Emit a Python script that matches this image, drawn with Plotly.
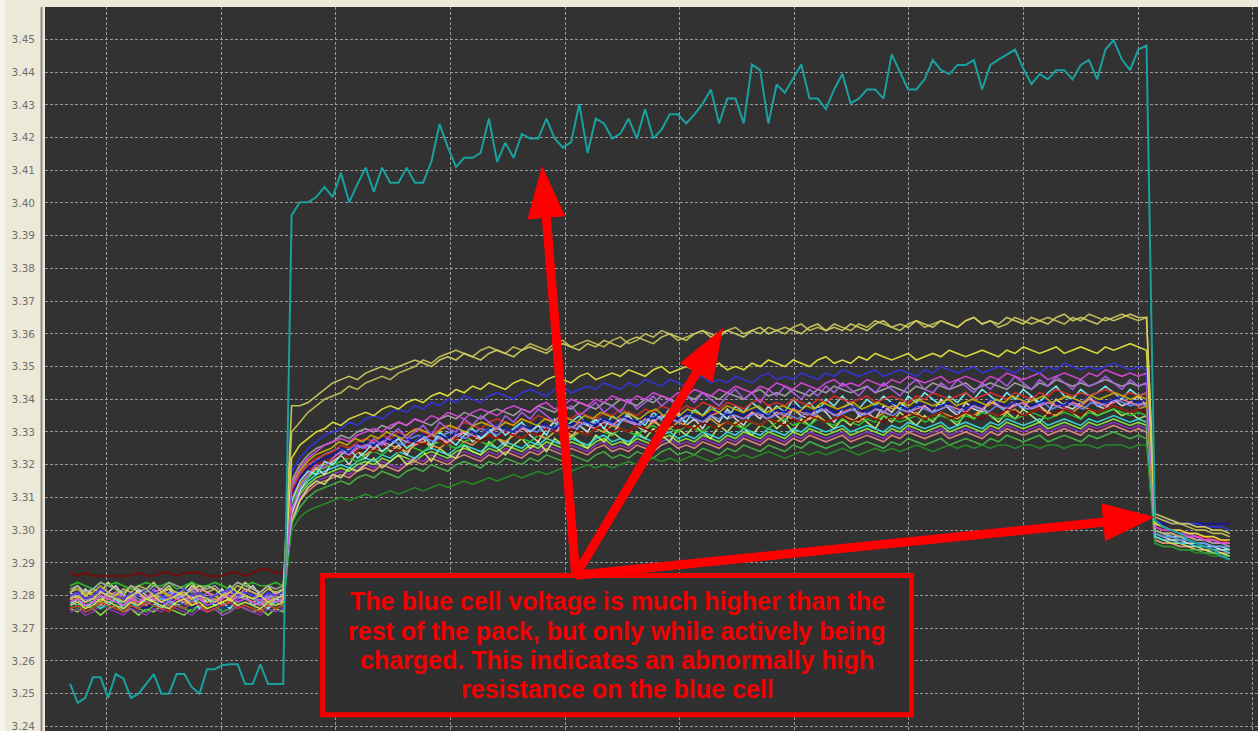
import numpy as np
import plotly.graph_objects as go

# Cell voltages in millivolts above 3.000 V.
# Each cell has three logged phases: resting, charging, and just after charge stops.

# The high-resistance ("blue") cell
blue_rest = [253.0, 247.2, 248.7, 255.0, 255.0, 248.7, 256.0, 254.7, 248.7, 250.0, 253.0, 256.0, 250.0, 250.0,
             256.0, 256.0, 252.0, 250.0, 257.5, 257.5, 258.7, 259.0, 259.0, 253.0, 253.0, 259.0, 253.0, 253.0, 253.0]
blue_chg = [396.2, 400.2, 400.2, 401.8, 404.9, 401.8, 409.2, 400.2, 405.7, 410.8, 403.4, 410.8, 406.2, 406.2,
            410.8, 406.2, 406.2, 412.6, 424.1, 417.1, 411.0, 413.8, 413.8, 415.3, 425.8, 412.6,
            418.4, 413.8, 421.1, 419.7, 419.7, 425.8, 419.7, 416.9, 418.6, 430.3, 415.3, 425.8, 424.3,
            419.7, 421.2, 425.8, 419.7, 428.7, 419.7, 422.4, 427.1, 427.1, 424.3, 427.1, 430.3, 434.7,
            424.3, 431.9, 431.9, 424.3, 442.3, 440.6, 424.3, 436.2, 433.7, 437.8, 442.3, 431.9, 431.9,
            428.7, 434.7, 439.4, 430.5, 431.9, 434.7, 434.7, 431.9, 445.4, 440.1, 434.7, 434.7, 437.8,
            443.7, 440.6, 439.4, 442.2, 442.2, 443.7, 434.7, 442.2, 443.8, 445.4, 446.9, 441.1, 436.3,
            439.4, 437.8, 440.6, 440.6, 437.8, 442.2, 443.7, 437.8, 446.9, 449.8, 443.9, 440.6, 446.9, 448.1]
blue_post = [303, 301, 300, 299, 297, 296, 295, 294, 292, 291]

c01_rest = [279,280,278,279,281,280,279,278,280,281,279,280,278,279,280,281,279,280,279,278,280,279,281,280,279,280,278,279,280]
c01_chg = [338,338,339,341,343,345,346,347,346,348,349,350,349,350,351,352,351,350,352,353,352,354,353,352,354,355,354,353,355,356,355,354,356,357,356,355,357,356,358,357,356,358,359,358,357,359,360,359,358,360,361,359,360,361,360,359,361,362,360,361,362,361,360,362,363,361,362,361,363,362,361,363,364,362,363,362,364,363,362,364,363,362,364,365,363,364,363,365,364,363,365,364,363,365,366,364,365,364,363,365,364,365,366,365,365]
c01_post = [305,304,303,302,302,301,301,300,300,299]

c02_rest = [281,282,280,281,283,281,280,282,281,283,282,280,281,282,281,280,282,283,281,282,280,281,283,282,281,280,282,281,282]
c02_chg = [330,333,336,338,340,341,342,344,343,345,346,347,346,348,349,350,352,351,353,354,355,354,353,355,356,355,354,356,355,357,356,355,357,358,356,357,358,357,356,358,359,357,358,360,359,361,360,358,359,360,361,360,359,361,362,360,361,360,362,361,360,362,363,361,362,361,363,362,361,363,362,364,363,362,361,363,364,362,363,364,363,362,364,365,363,364,362,363,365,364,363,364,365,364,363,365,364,366,365,364,365,366,365,364,365]
c02_post = [304,303,302,302,301,300,300,299,299,298]

c03_rest = [277,278,276,277,279,278,277,276,278,277,279,278,277,276,278,279,277,278,276,277,278,279,277,278,277,276,278,277,278]
c03_chg = [322,326,328,330,331,333,332,334,335,336,335,337,338,337,339,340,339,341,342,341,343,342,344,343,345,344,343,345,346,345,344,346,347,346,345,347,348,346,347,348,347,349,348,347,349,350,348,349,350,349,348,350,351,349,350,349,351,350,352,351,350,352,351,350,352,353,351,352,351,353,352,354,353,352,353,354,352,353,354,353,355,354,353,354,355,354,353,355,354,356,355,354,355,356,354,355,356,355,354,356,355,356,357,356,355]
c03_post = [302,301,300,300,299,299,298,298,297,297]

c04_rest = [280,281,279,280,282,281,280,279,281,280,282,281,280,279,281,282,280,281,279,280,281,282,280,281,280,279,281,280,281]
c04_chg = [318,322,325,327,329,330,331,333,332,334,335,334,336,337,336,338,337,339,338,340,339,341,340,339,341,342,341,340,342,343,342,341,343,344,342,343,344,343,345,344,343,345,344,346,345,344,346,345,344,346,347,345,346,345,347,346,345,347,348,346,347,346,348,347,346,348,347,349,348,347,348,349,347,348,349,348,347,349,348,350,349,348,349,350,348,349,350,349,348,350,349,348,350,349,351,350,349,350,349,350,351,350,349,350,349]
c04_post = [304,303,303,302,302,302,301,301,301,300]

c05_rest = [278,279,277,278,280,279,278,277,279,278,280,279,278,277,279,278,280,279,277,278,279,280,278,279,278,277,279,278,279]
c05_chg = [314,319,322,324,326,327,328,327,329,330,331,330,332,333,332,334,333,335,334,336,335,334,336,337,336,335,337,338,337,336,338,339,337,338,340,339,338,340,339,341,340,339,341,340,342,341,340,342,341,343,342,341,343,342,344,343,342,344,343,345,344,343,345,344,343,345,346,344,345,344,346,345,344,346,345,347,346,345,346,347,345,346,347,346,345,347,346,348,347,346,347,348,346,347,348,347,346,348,347,349,348,347,348,347,348]
c05_post = [301,300,300,299,298,298,297,297,296,296]

c06_rest = [282,283,281,282,284,283,282,281,283,282,281,283,282,284,283,282,281,283,282,283,281,282,284,283,282,281,283,282,283]
c06_chg = [315,320,323,325,326,327,329,328,330,331,330,332,331,333,332,334,333,332,334,335,334,336,335,334,336,337,336,335,337,336,338,337,336,338,337,339,338,337,339,338,340,339,338,340,339,341,340,339,341,340,342,341,340,342,341,340,342,343,341,342,341,343,342,341,343,342,344,343,342,343,344,342,343,344,343,342,344,343,345,344,343,344,345,343,344,345,344,343,345,344,343,345,344,346,345,344,345,344,345,346,345,344,345,344,345]
c06_post = [300,299,299,298,298,297,297,296,296,295]

c07_rest = [276,277,275,276,278,277,276,275,277,276,278,277,276,275,277,276,278,277,275,276,277,278,276,277,276,275,277,276,277]
c07_chg = [312,317,320,322,323,324,326,325,327,328,327,329,328,330,329,331,330,329,331,332,331,333,332,331,333,334,333,332,334,333,335,334,333,335,334,336,335,334,336,335,337,336,335,337,336,338,337,336,338,337,339,338,337,339,338,337,339,340,338,339,338,340,339,338,340,339,341,340,339,340,341,339,340,341,340,339,341,340,342,341,340,341,342,340,341,342,341,340,342,341,340,342,341,343,342,341,342,341,342,343,342,341,342,341,342]
c07_post = [302,301,300,300,299,298,298,297,297,296]

c08_rest = [283,284,283,282,284,283,284,283,282,283,284,283,283,284,282,283,284,283,283,284,283,282,284,283,284,283,283,284,283]
c08_chg = [308,313,316,318,319,320,321,322,321,323,324,323,325,324,326,325,324,326,327,326,325,327,328,327,326,328,327,329,328,327,329,328,330,329,328,330,329,331,330,329,331,330,329,331,332,330,331,330,332,331,330,332,331,333,332,331,333,332,331,333,334,332,333,332,334,333,332,334,333,332,334,333,335,334,333,334,335,333,334,335,334,333,335,334,336,335,334,335,334,335,336,335,334,335,336,335,334,336,335,336,337,336,335,336,335]
c08_post = [299,298,298,297,297,296,296,295,295,294]

c09_rest = [278,277,279,278,276,278,279,277,278,276,278,277,279,278,277,276,278,279,277,278,276,277,279,278,277,278,276,278,277]
c09_chg = [306,312,315,317,318,319,320,319,321,322,321,323,322,324,323,322,324,325,324,323,325,326,325,324,326,325,327,326,325,327,326,328,327,326,328,327,326,328,329,327,328,327,329,328,327,329,330,328,329,328,330,329,328,330,329,331,330,329,331,330,329,331,330,332,331,330,331,332,330,331,332,331,330,332,331,333,332,331,332,333,331,332,333,332,331,333,332,334,333,332,333,334,332,333,334,333,332,334,333,334,335,334,333,334,333]
c09_post = [298,297,297,296,296,295,295,294,294,293]

c10_rest = [280,281,279,280,282,281,280,279,281,280,279,281,282,280,281,279,280,282,281,280,279,281,280,282,281,280,279,281,280]
c10_chg = [310,315,318,320,321,322,324,323,325,326,325,327,326,328,327,326,328,329,328,327,329,330,329,328,330,331,330,329,331,330,332,331,330,332,331,333,332,331,333,332,334,333,332,334,333,335,334,333,335,334,333,335,336,334,335,334,336,335,334,336,335,337,336,335,336,337,335,336,337,336,335,337,336,338,337,336,337,338,336,337,338,337,336,338,337,339,338,337,338,339,337,338,339,338,337,339,338,340,339,338,339,340,339,338,339]
c10_post = [300,299,299,298,298,297,297,296,296,296]

c11_rest = [279,278,280,279,277,279,280,278,279,277,279,278,280,279,278,277,279,280,278,279,277,278,280,279,278,279,277,279,278]
c11_chg = [309,314,317,319,320,321,323,322,324,323,325,324,326,325,324,326,327,326,325,327,328,327,326,328,329,328,327,329,328,330,329,328,330,331,329,330,329,331,330,332,331,330,332,331,333,332,331,333,332,331,333,334,332,333,332,334,333,332,334,333,335,334,333,334,335,333,334,335,334,333,335,334,336,335,334,335,336,334,335,336,335,334,336,335,337,336,335,336,337,335,336,337,336,335,337,336,338,337,336,337,338,337,336,337,338]
c11_post = [301,300,300,299,299,298,298,297,297,297]

c12_rest = [276,275,277,276,274,276,277,275,276,274,276,275,277,276,275,274,276,277,275,276,274,275,277,276,275,276,274,276,275]
c12_chg = [305,311,314,316,317,318,319,318,320,321,320,322,321,323,322,321,323,324,323,322,324,325,324,323,325,324,326,325,324,326,325,327,326,325,327,326,325,327,328,326,327,326,328,327,326,328,329,327,328,327,329,328,327,329,328,330,329,328,330,329,328,330,329,331,330,329,330,331,329,330,331,330,329,331,330,332,331,330,331,332,330,331,332,331,330,332,331,333,332,331,332,333,331,332,333,332,331,333,332,333,334,333,332,333,332]
c12_post = [297,296,296,295,295,294,294,293,293,292]

c13_rest = [275,276,274,275,277,276,275,274,276,275,274,276,275,277,276,275,274,276,275,276,274,275,277,276,275,274,276,275,276]
c13_chg = [304,310,313,315,316,317,318,317,319,320,319,321,320,319,321,322,321,323,322,321,323,324,323,322,324,323,325,324,323,325,324,326,325,324,326,325,324,326,327,325,326,325,327,326,325,327,328,326,327,326,328,327,326,328,327,329,328,327,329,328,327,329,328,330,329,328,329,330,328,329,330,329,328,330,329,331,330,329,330,331,329,330,331,330,329,331,330,332,331,330,331,332,330,331,332,331,330,332,331,332,333,332,331,332,331]
c13_post = [298,297,297,296,296,295,295,295,294,294]

c14_rest = [277,278,276,277,279,278,277,276,278,277,276,278,277,279,278,277,276,278,277,278,276,277,279,278,277,276,278,277,278]
c14_chg = [311,316,319,321,322,323,325,324,326,327,326,328,327,329,328,327,329,330,329,328,330,331,330,329,331,332,331,330,332,331,333,332,331,333,332,334,333,332,334,333,335,334,333,335,334,336,335,334,336,335,334,336,337,335,336,335,337,336,335,337,336,338,337,336,337,338,336,337,338,337,336,338,337,339,338,337,338,339,337,338,339,338,337,339,338,340,339,338,339,340,338,339,340,339,338,340,339,341,340,339,340,341,340,339,340]
c14_post = [303,302,302,302,302,302,302,302,302,302]

c15_rest = [278,279,277,278,280,279,278,277,279,278,277,279,278,280,279,278,277,279,278,279,277,278,280,279,278,277,279,278,279]
c15_chg = [303,309,312,314,315,316,317,316,318,319,318,320,319,318,320,321,320,322,321,320,322,323,322,321,323,322,324,323,322,324,323,325,324,323,325,324,323,325,326,324,325,324,326,325,324,326,327,325,326,325,327,326,325,327,326,328,327,326,328,327,326,328,327,329,328,327,328,329,327,328,329,328,327,329,328,330,329,328,329,330,328,329,330,329,328,330,329,331,330,329,330,331,329,330,331,330,329,331,330,331,332,331,330,331,330]
c15_post = [297,296,296,295,295,294,294,294,293,293]

c16_rest = [277,276,278,277,276,277,278,276,277,276,278,277,276,277,278,276,277,278,276,277,276,277,278,277,276,277,278,276,277]
c16_chg = [300,304,306,307,308,309,310,309,310,311,310,311,312,311,312,313,312,313,314,313,314,315,314,315,316,315,316,317,316,317,318,317,318,319,318,319,320,319,320,319,320,321,320,321,322,321,322,321,322,323,322,321,322,323,322,323,322,323,324,323,322,323,324,323,324,323,324,325,324,323,324,325,324,325,324,325,326,325,324,325,326,325,326,325,326,325,326,326,325,326,326,325,326,326,325,326,326,326,325,326,326,326,325,326,326]
c16_post = [296,295,295,294,294,293,293,292,292,291]

c17_rest = [276,277,275,276,278,277,276,275,277,276,275,277,276,278,277,276,275,277,276,277,275,276,278,277,276,275,277,276,277]
c17_chg = [302,307,310,312,313,314,315,314,316,317,316,318,317,316,318,319,318,320,319,318,320,321,320,319,321,320,322,321,320,322,321,323,322,321,323,322,321,323,324,322,323,322,324,323,322,324,325,323,324,323,325,324,323,325,324,326,325,324,326,325,324,326,325,327,326,325,326,327,325,326,327,326,325,327,326,328,327,326,327,328,326,327,328,327,326,328,327,329,328,327,328,329,327,328,329,328,327,329,328,329,330,329,328,329,328]
c17_post = [296,295,295,294,294,294,293,293,292,292]

c18_rest = [287,286,287,286,286,286,286,286,286,287,286,286,287,287,286,287,287,287,286,286,286,287,287,286,287,288,288,287,287]
c18_chg = [310,315,318,320,321,322,323,322,324,325,324,326,325,324,326,327,326,328,327,326,328,329,328,327,329,328,330,329,328,330,329,331,330,329,331,330,329,331,332,330,331,330,332,331,330,332,333,331,332,331,333,332,331,333,332,334,333,332,334,333,332,334,333,335,334,333,334,335,333,334,335,334,333,335,334,336,335,334,335,336,334,335,336,335,334,336,335,337,336,335,336,337,335,336,337,336,335,337,336,337,338,337,336,337,336]
c18_post = [301,300,300,299,299,298,298,297,297,297]

c19_rest = [279,280,278,279,281,280,279,278,280,279,278,280,279,281,280,279,278,280,279,280,278,279,281,280,279,278,280,279,280]
c19_chg = [313,317,320,321,323,324,325,324,326,325,327,326,328,327,326,328,329,328,327,329,330,329,328,330,331,330,329,331,330,332,331,330,332,331,333,332,331,333,332,334,333,332,334,333,332,334,335,333,334,333,335,334,333,335,334,336,335,334,335,336,334,335,336,335,334,336,335,337,336,335,336,337,335,336,337,336,335,337,336,338,337,336,337,338,336,337,338,337,336,338,337,339,338,337,338,339,337,338,339,338,337,339,338,339,340,339,338,339,338]
c19_post = [299,298,298,297,297,296,296,295,295,295]

c20_rest = [280,279,281,280,278,280,281,279,280,278,280,279,281,280,279,278,280,281,279,280,278,279,281,280,279,280,278,280,279]
c20_chg = [314,318,321,323,324,325,327,326,328,327,329,328,330,329,328,330,331,330,329,331,332,331,330,332,333,332,331,333,332,334,333,332,334,333,335,334,333,335,334,336,335,334,336,335,334,336,337,335,336,335,337,336,335,337,336,338,337,336,337,338,336,337,338,337,336,338,337,339,338,337,338,339,337,338,339,338,337,339,338,340,339,338,339,340,338,339,340,339,338,340,339,341,340,339,340,341,339,340,341,340,339,341,340,341,342,341,340,341,340]
c20_post = [300,299,299,298,298,297,297,297,296,296]

c21_rest = [281,279,282,280,278,281,283,280,279,282,280,278,281,282,279,280,283,281,279,280,282,278,280,281,283,280,279,281,280]
c21_chg = [305,312,316,319,317,321,323,320,324,322,325,327,324,326,323,327,328,325,329,326,328,330,327,329,331,328,326,330,332,329,327,331,333,330,328,332,330,334,331,329,333,335,332,330,334,331,333,336,332,334,331,335,333,337,334,332,336,334,338,335,333,337,335,334,338,336,333,337,339,335,336,334,338,336,339,337,335,338,336,340,337,335,339,337,336,340,338,336,339,337,341,338,336,340,338,337,339,341,338,337,340,338,339,341,338]
c21_post = [299,298,297,297,296,296,295,295,294,294]

c22_rest = [277,279,276,278,280,277,279,276,278,277,280,278,276,279,277,278,280,276,279,277,278,276,279,280,277,278,276,279,278]
c22_chg = [309,315,318,317,321,320,323,325,322,324,327,324,326,328,325,327,329,326,330,328,326,329,331,328,330,332,329,331,333,330,332,329,334,331,333,335,332,334,331,335,333,336,334,332,336,334,337,335,333,337,335,338,336,334,338,336,339,337,335,338,336,340,337,339,336,340,338,341,338,337,340,338,341,339,337,341,339,342,340,338,341,339,342,340,343,341,339,342,340,343,341,339,342,344,341,340,343,341,342,344,342,340,343,341,342]
c22_post = [300,299,298,298,297,296,296,295,295,294]

c23_rest = [279,281,278,280,282,279,281,280,278,281,279,282,280,278,281,280,282,279,281,278,280,282,279,281,280,278,281,279,280]
c23_chg = [306,313,317,320,319,322,324,323,326,325,328,326,329,331,328,330,332,329,333,331,330,334,332,335,333,331,335,333,336,334,337,335,333,336,338,335,337,339,336,338,336,340,337,339,341,338,340,337,341,339,342,340,338,341,343,340,342,339,343,341,344,342,340,343,341,344,342,345,343,341,344,342,345,343,341,344,346,343,342,345,343,346,344,342,345,343,346,344,347,345,343,346,344,347,345,343,346,344,345,347,345,343,346,344,345]
c23_post = [302,301,300,299,299,298,297,297,296,296]

c24_rest = [281,283,280,282,281,284,282,280,283,281,282,284,281,283,280,282,284,281,283,282,280,283,281,284,282,281,283,280,282]
c24_chg = [302,309,313,315,314,317,316,319,318,320,322,319,321,323,320,322,324,321,325,323,322,326,324,323,327,325,323,326,328,325,327,324,328,326,329,327,325,329,327,330,328,326,330,328,331,329,327,331,329,332,330,328,332,330,333,331,329,332,334,331,333,330,334,332,335,333,331,334,332,335,333,331,335,333,336,334,332,335,333,336,334,332,336,334,337,335,333,336,334,337,335,333,336,335,337,336,334,337,335,336,337,335,336,334,335]
c24_post = [298,297,296,296,295,295,294,293,293,292]

# Logging timeline (minutes): rest window, charge window, post-charge window
REST_SPAN = (10.2, 38.1)
CHARGE_SPAN = (39.2, 151.1)
POST_SPAN = (152.2, 162.0)

X_RANGE = (6.92, 165.69)
Y_RANGE = (3.2386, 3.4599)

cells = [
    (c12_rest, c12_chg, c12_post, "#8CEB44"),
    (c13_rest, c13_chg, c13_post, "#9434C8"),
    (c15_rest, c15_chg, c15_post, "#F08888"),
    (c24_rest, c24_chg, c24_post, "#C8F070"),
    (c17_rest, c17_chg, c17_post, "#48B848"),
    (c16_rest, c16_chg, c16_post, "#249024"),
    (c09_rest, c09_chg, c09_post, "#38E0E0"),
    (c21_rest, c21_chg, c21_post, "#E0E0E0"),
    (c08_rest, c08_chg, c08_post, "#2CC82C"),
    (c11_rest, c11_chg, c11_post, "#E8A030"),
    (c10_rest, c10_chg, c10_post, "#FF78B8"),
    (c18_rest, c18_chg, c18_post, "#8C0000"),
    (c22_rest, c22_chg, c22_post, "#7CF8F8"),
    (c19_rest, c19_chg, c19_post, "#6C8CFF"),
    (c14_rest, c14_chg, c14_post, "#1414A8"),
    (c07_rest, c07_chg, c07_post, "#E02C2C"),
    (c20_rest, c20_chg, c20_post, "#C8B400"),
    (c06_rest, c06_chg, c06_post, "#A8A8A8"),
    (c23_rest, c23_chg, c23_post, "#B060F0"),
    (c05_rest, c05_chg, c05_post, "#E048E0"),
    (c04_rest, c04_chg, c04_post, "#3434E8"),
    (c03_rest, c03_chg, c03_post, "#E8E840"),
    (c02_rest, c02_chg, c02_post, "#C8C458"),
    (c01_rest, c01_chg, c01_post, "#D4D060"),
]


def timeline(rest, chg, post):
    t = np.concatenate([
        np.linspace(*REST_SPAN, len(rest)),
        np.linspace(*CHARGE_SPAN, len(chg)),
        np.linspace(*POST_SPAN, len(post)),
    ])
    v = 3.0 + np.array(list(rest) + list(chg) + list(post), dtype=float) / 1000.0
    return t, v


fig = go.Figure()
for rest, chg, post, color in cells:
    t, v = timeline(rest, chg, post)
    fig.add_trace(go.Scatter(x=t, y=v, mode="lines", line=dict(color=color, width=1.6),
                             opacity=0.9, hoverinfo="skip"))

t, v = timeline(blue_rest, blue_chg, blue_post)
fig.add_trace(go.Scatter(x=t, y=v, mode="lines", line=dict(color="#1AA0A0", width=2),
                         hoverinfo="skip"))

# Plot-area geometry (pixels) used to build the callout arrows
W, H = 1258, 731
ML, MT = 45, 7
PW, PH = W - ML, H - MT


def to_px(t, v):
    return (ML + (t - X_RANGE[0]) / (X_RANGE[1] - X_RANGE[0]) * PW,
            MT + (Y_RANGE[1] - v) / (Y_RANGE[1] - Y_RANGE[0]) * PH)


def to_paper(px, py):
    return ((px - ML) / PW, 1 - (py - MT) / PH)


def arrow_path(tail, tip, shaft=4.5, head_len=52, head_half=19):
    tx, ty = to_px(*tail)
    px, py = to_px(*tip)
    d = np.array([px - tx, py - ty])
    u = d / np.linalg.norm(d)
    n = np.array([-u[1], u[0]])
    T = np.array([tx, ty])
    P = np.array([px, py])
    B = P - head_len * u
    pts = [T + shaft * n, B + shaft * n, B + head_half * n, P,
           B - head_half * n, B - shaft * n, T - shaft * n]
    pp = [to_paper(*p) for p in pts]
    return "M " + " L ".join(f"{x:.5f},{y:.5f}" for x, y in pp) + " Z"


# Callout: note box (time / voltage extents) and the three arrows it points with
NOTE_BOX = dict(t0=43.25, t1=120.34, v0=3.2436, v1=3.2861)
ARROW_TAIL = (76.4, 3.2862)
ARROW_TIPS = [(71.98, 3.4113), (95.67, 3.3618), (152.2, 3.3040)]
NOTE_LINES = ["The blue cell voltage is much higher than the",
              "rest of the pack, but only while actively being",
              "charged. This indicates an abnormally high",
              "resistance on the blue cell"]
NOTE_LINE_V = [3.2783, 3.2692, 3.2603, 3.2514]

shapes = [
    # light edge strip and separator line left of the plot
    dict(type="rect", xref="paper", yref="paper", x0=-ML / PW, x1=(5 - ML) / PW, y0=-0.01, y1=1.02,
         fillcolor="#F6F5F0", line=dict(width=0), layer="below"),
    dict(type="line", xref="paper", yref="paper", x0=(41.5 - ML) / PW, x1=(41.5 - ML) / PW, y0=0, y1=1,
         line=dict(color="#8A8A86", width=2)),
    dict(type="rect", xref="x", yref="y", x0=NOTE_BOX["t0"], x1=NOTE_BOX["t1"],
         y0=NOTE_BOX["v0"], y1=NOTE_BOX["v1"], fillcolor="#303030",
         line=dict(color="#F20000", width=5), layer="above"),
]
for tip in ARROW_TIPS:
    shapes.append(dict(type="path", xref="paper", yref="paper", path=arrow_path(ARROW_TAIL, tip),
                       fillcolor="#FF0000", line=dict(width=0), layer="above"))

note_x = (NOTE_BOX["t0"] + NOTE_BOX["t1"]) / 2
annotations = [dict(xref="x", yref="y", x=note_x, y=yv, text=line, showarrow=False,
                    xanchor="center", yanchor="middle",
                    font=dict(family="Liberation Sans", size=25, color="#F40000", weight="bold"))
               for line, yv in zip(NOTE_LINES, NOTE_LINE_V)]

fig.update_layout(
    width=W, height=H, autosize=False,
    margin=dict(l=ML, r=0, t=MT, b=0, pad=0),
    paper_bgcolor="#ECE9D8", plot_bgcolor="#323232",
    showlegend=False,
    shapes=shapes,
    annotations=annotations,
)
fig.update_xaxes(range=list(X_RANGE), showticklabels=False, ticks="", showgrid=True,
                 gridcolor="#989898", griddash="3px,2px", gridwidth=1,
                 tick0=0, dtick=15, zeroline=False, showline=False)
fig.update_yaxes(range=list(Y_RANGE), tick0=3.24, dtick=0.01, tickformat=".2f",
                 showgrid=True, gridcolor="#989898", griddash="3px,2px", gridwidth=1,
                 zeroline=False, showline=False, ticks="", ticklabelstandoff=9,
                 ticklabeloverflow="allow", automargin=False,
                 tickfont=dict(family="DejaVu Sans", size=10.5, color="#6E6E6E"))

fig.write_html("out.html")
